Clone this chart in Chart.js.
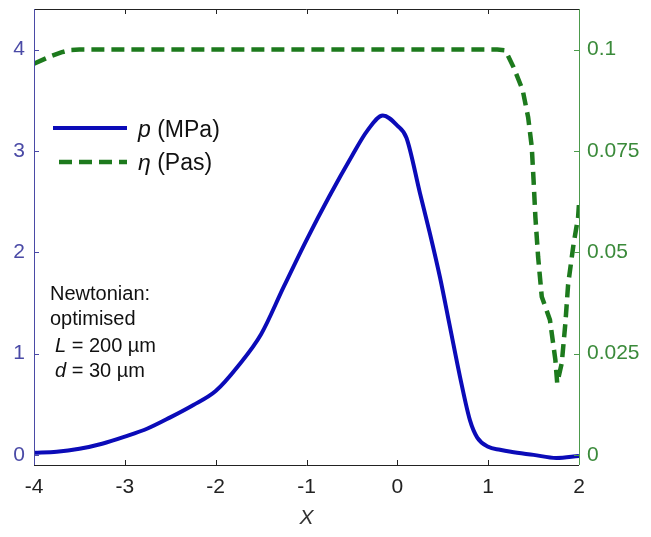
<!DOCTYPE html>
<html>
<head>
<meta charset="utf-8">
<script src="https://cdn.jsdelivr.net/npm/chart.js@4.4.0/dist/chart.umd.min.js"></script>
<style>
  html, body { margin: 0; padding: 0; background: #fff; }
  #wrap { width: 651px; height: 537px; position: relative; }
</style>
</head>
<body>
<div id="wrap"><canvas id="c" width="651" height="537"></canvas></div>
<script>
// ---- data ----
const xP = [-4, -3.75, -3.5, -3.25, -3, -2.75, -2.5, -2.25, -2, -1.75, -1.5, -1.25, -1, -0.75, -0.5, -0.33, -0.16, 0, 0.1, 0.25, 0.36, 0.47, 0.58, 0.69, 0.8, 0.88, 1.0, 1.13, 1.25, 1.5, 1.75, 2.0];
const pVals = [0.02, 0.03, 0.06, 0.11, 0.18, 0.26, 0.37, 0.49, 0.63, 0.88, 1.19, 1.66, 2.12, 2.55, 2.95, 3.2, 3.35, 3.25, 3.13, 2.58, 2.18, 1.75, 1.26, 0.77, 0.34, 0.17, 0.08, 0.05, 0.03, 0.0, -0.03, -0.01];
const xEta = [-4, -3.9, -3.8, -3.7, -3.6, -3.5, 1.1, 1.19, 1.28, 1.38, 1.44, 1.48, 1.5, 1.52, 1.55, 1.59, 1.63, 1.68, 1.74, 1.76, 1.81, 1.85, 1.88, 1.94, 1.99, 2.0];
const etaVals = [0.0965, 0.0975, 0.0985, 0.0993, 0.0999, 0.1, 0.1, 0.0998, 0.0956, 0.090, 0.0833, 0.076, 0.0677, 0.0586, 0.0488, 0.039, 0.0365, 0.0333, 0.0234, 0.0177, 0.0226, 0.0325, 0.042, 0.052, 0.0586, 0.062];
const xTicks = [-4, -3, -2, -1, 0, 1, 2];
const pTicks = [0, 1, 2, 3, 4];
const etaTicks = [0, 0.025, 0.05, 0.075, 0.1];
const legendLabels = [["p", " (MPa)"], ["\u03B7", " (Pas)"]];
const noteLines = [["", "Newtonian:"], ["", "optimised"], ["L", " = 200 \u00B5m"], ["d", " = 30 \u00B5m"]];

const FONT = '"Liberation Sans", Arial, sans-serif';
const BLUE = '#0b0bb8';
const GREEN = '#1d7a1d';
const BLUE_AX = '#4a4aa6';
const GREEN_AX = '#4c9a4c';

const frame = {
  id: 'frame',
  afterDraw(chart) {
    const ctx = chart.ctx;
    const a = chart.chartArea;
    const sx = chart.scales.x, yl = chart.scales.y, yr = chart.scales.y2;
    const TL = 5;
    ctx.save();
    ctx.lineWidth = 1;
    ctx.strokeStyle = '#222';
    ctx.beginPath();
    ctx.moveTo(a.left, a.top + 0.5); ctx.lineTo(a.right, a.top + 0.5);
    ctx.moveTo(a.left, a.bottom + 0.5); ctx.lineTo(a.right, a.bottom + 0.5);
    xTicks.forEach(v => {
      const px = Math.round(sx.getPixelForValue(v)) + 0.5;
      ctx.moveTo(px, a.bottom); ctx.lineTo(px, a.bottom - TL);
      ctx.moveTo(px, a.top); ctx.lineTo(px, a.top + TL);
    });
    ctx.stroke();
    ctx.strokeStyle = BLUE_AX;
    ctx.beginPath();
    ctx.moveTo(a.left + 0.5, a.top); ctx.lineTo(a.left + 0.5, a.bottom);
    pTicks.forEach(v => {
      const py = Math.round(yl.getPixelForValue(v)) + 0.5;
      ctx.moveTo(a.left, py); ctx.lineTo(a.left + TL, py);
    });
    ctx.stroke();
    ctx.strokeStyle = GREEN_AX;
    ctx.beginPath();
    ctx.moveTo(a.right + 0.5, a.top); ctx.lineTo(a.right + 0.5, a.bottom);
    etaTicks.forEach(v => {
      const py = Math.round(yr.getPixelForValue(v)) + 0.5;
      ctx.moveTo(a.right, py); ctx.lineTo(a.right - TL, py);
    });
    ctx.stroke();

    // legend
    ctx.lineCap = 'butt';
    ctx.strokeStyle = BLUE; ctx.lineWidth = 4;
    ctx.beginPath(); ctx.moveTo(53, 128); ctx.lineTo(127, 128); ctx.stroke();
    ctx.strokeStyle = GREEN; ctx.lineWidth = 4.5; ctx.setLineDash([13, 7]);
    ctx.beginPath(); ctx.moveTo(59, 162); ctx.lineTo(127, 162); ctx.stroke();
    ctx.setLineDash([]);
    ctx.fillStyle = '#111';
    ctx.textBaseline = 'alphabetic';
    ctx.textAlign = 'left';
    const legY = [137, 170];
    legendLabels.forEach((lab, i) => {
      let x = 138;
      ctx.font = 'italic 23px ' + FONT;
      ctx.fillText(lab[0], x, legY[i]);
      x += ctx.measureText(lab[0]).width;
      ctx.font = '23px ' + FONT;
      ctx.fillText(lab[1], x, legY[i]);
    });
    // annotation
    const noteY = [300, 325, 352, 377];
    const noteX = [50, 50, 55, 55];
    noteLines.forEach((ln, i) => {
      let x = noteX[i];
      ctx.font = 'italic 20px ' + FONT;
      if (ln[0]) { ctx.fillText(ln[0], x, noteY[i]); x += ctx.measureText(ln[0]).width; }
      ctx.font = '20px ' + FONT;
      ctx.fillText(ln[1], x, noteY[i]);
    });
    ctx.restore();
  }
};

new Chart(document.getElementById('c'), {
  type: 'line',
  data: {
    datasets: [
      {
        label: 'p (MPa)',
        data: xP.map((x, i) => ({ x: x, y: pVals[i] })),
        borderColor: BLUE, borderWidth: 4, pointRadius: 0,
        cubicInterpolationMode: 'monotone', yAxisID: 'y'
      },
      {
        label: '\u03B7 (Pas)',
        data: xEta.map((x, i) => ({ x: x, y: etaVals[i] })),
        borderColor: GREEN, borderWidth: 4.5, borderDash: [13, 7], pointRadius: 0,
        tension: 0, yAxisID: 'y2'
      }
    ]
  },
  options: {
    responsive: false,
    animation: false,
    layout: { padding: { top: 9, left: 0, right: 0, bottom: 0 } },
    plugins: { legend: { display: false }, tooltip: { enabled: false } },
    scales: {
      x: {
        type: 'linear', min: -4, max: 2,
        afterFit(s) { s.height = 72; s.paddingLeft = 0; s.paddingRight = 0; },
        afterBuildTicks(s) { s.ticks = xTicks.map(v => ({ value: v })); },
        grid: { display: false, drawTicks: false }, border: { display: false },
        ticks: { padding: 10, color: '#222', font: { family: FONT, size: 21 }, autoSkip: false, maxRotation: 0 },
        title: { display: true, text: 'X', color: '#333', font: { family: FONT, size: 21, style: 'italic' }, padding: { top: 0, bottom: 6 } }
      },
      y: {
        type: 'linear', position: 'left', min: -0.1, max: 4.4,
        afterFit(s) { s.width = 34; s.paddingTop = 0; s.paddingBottom = 0; },
        afterBuildTicks(s) { s.ticks = pTicks.map(v => ({ value: v })); },
        grid: { display: false, drawTicks: false }, border: { display: false },
        ticks: { padding: 9, color: BLUE_AX, font: { family: FONT, size: 21 } }
      },
      y2: {
        type: 'linear', position: 'right', min: -0.0025, max: 0.11,
        afterFit(s) { s.width = 72; s.paddingTop = 0; s.paddingBottom = 0; },
        afterBuildTicks(s) { s.ticks = etaTicks.map(v => ({ value: v })); },
        grid: { display: false, drawTicks: false }, border: { display: false },
        ticks: { padding: 8, color: '#3a8a3a', font: { family: FONT, size: 21 },
          callback: v => String(Math.round(v * 1000) / 1000) }
      }
    }
  },
  plugins: [frame]
});
</script>
</body>
</html>
